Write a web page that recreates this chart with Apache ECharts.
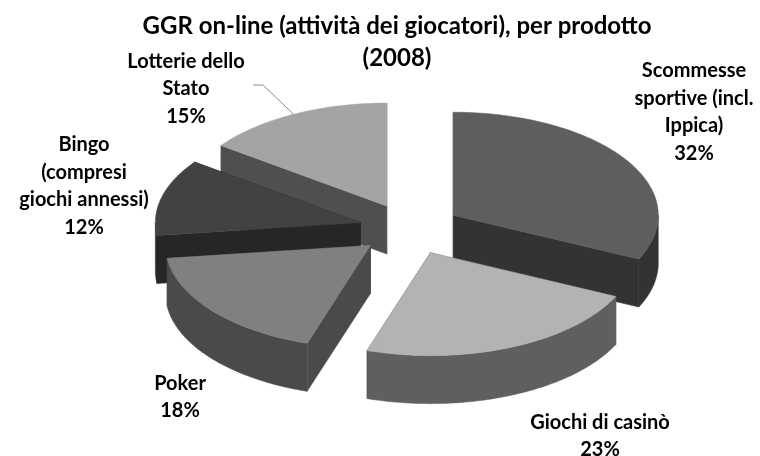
<!DOCTYPE html>
<html><head><meta charset="utf-8">
<script src="https://cdn.jsdelivr.net/npm/echarts@6/dist/echarts.min.js"></script>
<style>html,body{margin:0;padding:0;background:#fff}#c{width:760px;height:456px}</style>
</head><body><div id="c"></div>
<script>
const titleText = 'GGR on-line (attività dei giocatori), per prodotto\n(2008)';
const categories = ['Scommesse\nsportive (incl.\nIppica)', 'Giochi di casinò', 'Poker', 'Bingo\n(compresi\ngiochi annessi)', 'Lotterie dello\nStato'];
const values = [32, 23, 18, 12, 15];

const topColors = ['#5e5e5e', '#b3b3b3', '#808080', '#424242', '#a4a4a4'];
const sideColors = ['#333333', '#5f5f5f', '#4a4a4a', '#262626', '#4f4f4f'];
const labelPos = [[694, 112], [600, 436], [180, 397], [84, 186], [186, 89]];
const leaders = [null, null, null, null, [[77, -4], [67, -4]]];

const CX = 410, CY = 229, RX = 205, RY = 103, H = 48, EXP = 0.25;
const FONT = 'Lato';
const total = values.reduce((a, b) => a + b, 0);

function renderItem(params, api) {
  const i = params.dataIndex;
  const v = api.value(0);
  let start = 0;
  for (let k = 0; k < i; k++) start += values[k];
  const a0 = start / total * 2 * Math.PI, a1 = (start + v) / total * 2 * Math.PI, am = (a0 + a1) / 2;
  const ox = CX + EXP * RX * Math.sin(am), oy = CY - EXP * RY * Math.cos(am);
  const P = (a, dy) => [ox + RX * Math.sin(a), oy - RY * Math.cos(a) + (dy || 0)];
  const deg = Math.PI / 180;
  const N = Math.max(8, Math.ceil((a1 - a0) / deg));
  const top = [[ox, oy]];
  for (let s = 0; s <= N; s++) top.push(P(a0 + (a1 - a0) * s / N));
  const base = Math.round(oy) * 10;
  const side = sideColors[i], tc = topColors[i];
  const children = [];
  const face = (a) => ({
    type: 'polygon', z2: base + 1,
    shape: { points: [[ox, oy], P(a), P(a, H), [ox, oy + H]] },
    style: { fill: side, stroke: side, lineWidth: 0.5 }
  });
  children.push(face(a0), face(a1));
  const w0 = Math.max(a0, Math.PI / 2), w1 = Math.min(a1, 1.5 * Math.PI);
  if (w1 > w0) {
    const M = Math.max(4, Math.ceil((w1 - w0) / deg));
    const pts = [];
    for (let s = 0; s <= M; s++) pts.push(P(w0 + (w1 - w0) * s / M));
    for (let s = M; s >= 0; s--) pts.push(P(w0 + (w1 - w0) * s / M, H));
    children.push({ type: 'polygon', z2: base + 2, shape: { points: pts }, style: { fill: side, stroke: side, lineWidth: 0.5 } });
  }
  children.push({ type: 'polygon', z2: base + 3, shape: { points: top }, style: { fill: tc, stroke: tc, lineWidth: 0.5 } });

  const lp = labelPos[i];
  if (leaders[i]) {
    const pts = [P(am)].concat(leaders[i].map(d => [lp[0] + d[0], lp[1] + d[1]]));
    children.push({ type: 'polyline', z2: 100000, shape: { points: pts }, style: { stroke: '#8c8c8c', lineWidth: 1, fill: null } });
  }
  children.push({
    type: 'text', z2: 100001, x: lp[0], y: lp[1],
    style: {
      text: categories[i] + '\n' + v + '%',
      align: 'center', verticalAlign: 'middle',
      fontFamily: FONT, fontWeight: 'bold', fontSize: 20, lineHeight: 27.5, fill: '#000'
    }
  });
  return { type: 'group', children };
}

const chart = echarts.init(document.getElementById('c'));
chart.setOption({
  animation: false,
  backgroundColor: '#fff',
  title: {
    text: titleText, left: 392, top: 5, textAlign: 'center',
    textStyle: { fontFamily: FONT, fontWeight: 'bold', fontSize: 24, lineHeight: 32, color: '#000' }
  },
  series: [{
    type: 'custom',
    coordinateSystem: 'none',
    renderItem: renderItem,
    data: values.map((v, i) => ({ name: categories[i], value: v }))
  }]
});
</script></body></html>
